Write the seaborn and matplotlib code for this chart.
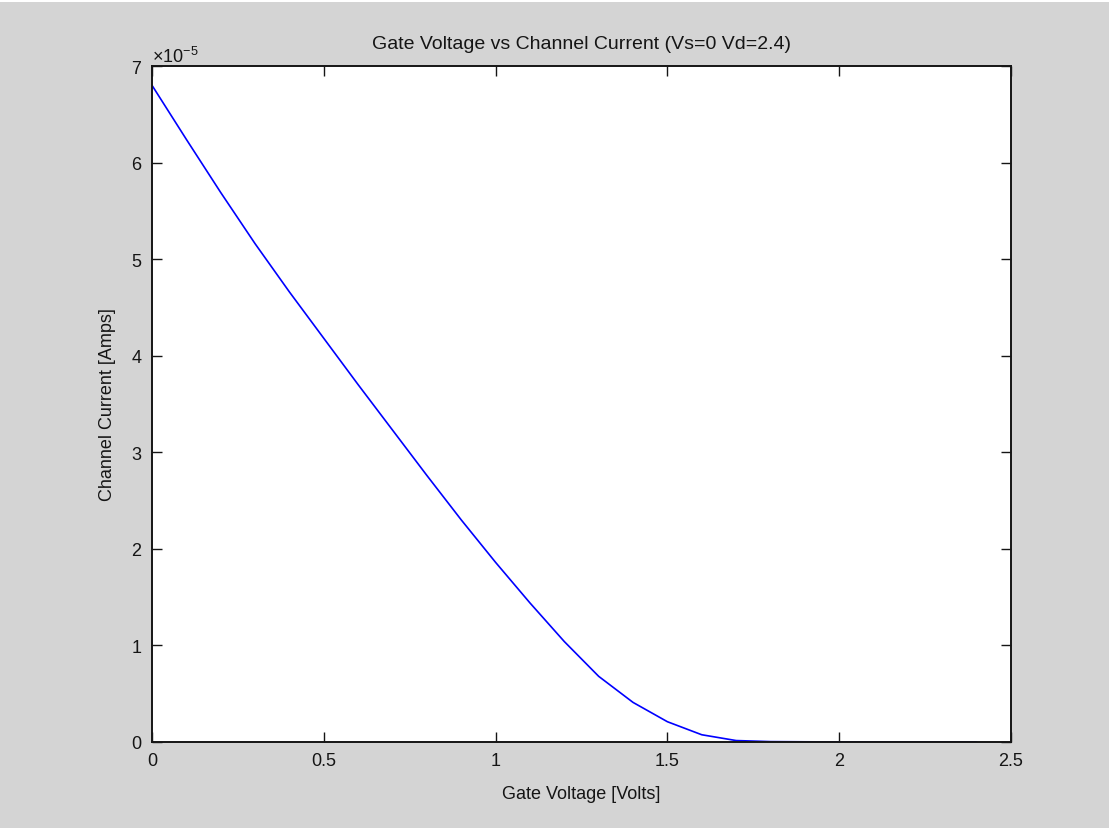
import numpy as np
import pandas as pd
import matplotlib
matplotlib.use("Agg")
import matplotlib.pyplot as plt
import matplotlib.ticker as mticker
import seaborn as sns

# Data
gate_voltage = [0.0, 0.1, 0.2, 0.3, 0.4, 0.5, 0.6, 0.7, 0.8, 0.9, 1.0,
                1.1, 1.2, 1.3, 1.4, 1.5, 1.6, 1.7, 1.8, 1.9, 2.0, 2.1,
                2.2, 2.3, 2.4]
channel_current_e5 = [6.80, 6.24, 5.69, 5.16, 4.66, 4.18, 3.70, 3.23, 2.76,
                      2.30, 1.86, 1.44, 1.04, 0.68, 0.41, 0.21, 0.075, 0.015,
                      0.004, 0.002, 0.001, 0.001, 0.001, 0.001, 0.001]
x_ticks = [0, 0.5, 1, 1.5, 2, 2.5]
x_tick_labels = ["0", "0.5", "1", "1.5", "2", "2.5"]
y_ticks_e5 = [0, 1, 2, 3, 4, 5, 6, 7]

df = pd.DataFrame({
    "Gate Voltage": gate_voltage,
    "Channel Current": np.array(channel_current_e5) * 1e-5,
})

sns.set_theme(style="white")
plt.rcParams["font.family"] = ["Liberation Sans", "DejaVu Sans"]
plt.rcParams["mathtext.fontset"] = "custom"
plt.rcParams["mathtext.rm"] = "Liberation Sans"
plt.rcParams["mathtext.it"] = "Liberation Sans"

TXT = "#151515"

fig = plt.figure(figsize=(11.09, 8.29), dpi=100, facecolor="#d4d4d4")
# thin white band at the very top, as in the reference screenshot
fig.patches.append(plt.Rectangle((0, 1 - 3 / 829), 1, 3 / 829,
                                 transform=fig.transFigure,
                                 facecolor="white", edgecolor="none"))

ax = fig.add_axes([152 / 1109, 1 - 743 / 829, (1011 - 152) / 1109, (743 - 67) / 829])
ax.set_facecolor("white")

sns.lineplot(data=df, x="Gate Voltage", y="Channel Current", ax=ax,
             color="#0000ff", linewidth=1.2)

ax.set_xlim(0, 2.5)
ax.set_ylim(0, 7e-5)
ax.set_xticks(x_ticks)
ax.set_xticklabels(x_tick_labels)
ax.set_yticks(np.array(y_ticks_e5) * 1e-5)

fmt = mticker.ScalarFormatter(useMathText=True)
fmt.set_powerlimits((0, 0))
ax.yaxis.set_major_formatter(fmt)
ax.yaxis.get_offset_text().set_fontsize(13)
ax.yaxis.get_offset_text().set_color(TXT)

ax.tick_params(direction="in", length=7, width=1.0, top=True, right=True,
               bottom=True, left=True, labelsize=13, colors=TXT)
ax.tick_params(axis="x", pad=7)
ax.tick_params(axis="y", pad=7)
for side in ["top", "bottom", "left", "right"]:
    ax.spines[side].set_visible(True)
    ax.spines[side].set_color(TXT)
    ax.spines[side].set_linewidth(1.4)

ax.set_xlabel("Gate Voltage [Volts]", fontsize=13, color=TXT, labelpad=12)
ax.set_ylabel("Channel Current [Amps]", fontsize=13, color=TXT, labelpad=11)
ax.set_title("Gate Voltage vs Channel Current (Vs=0 Vd=2.4)", fontsize=14,
             color=TXT, pad=13)

fig.savefig("out.png", dpi=100, facecolor=fig.get_facecolor())
